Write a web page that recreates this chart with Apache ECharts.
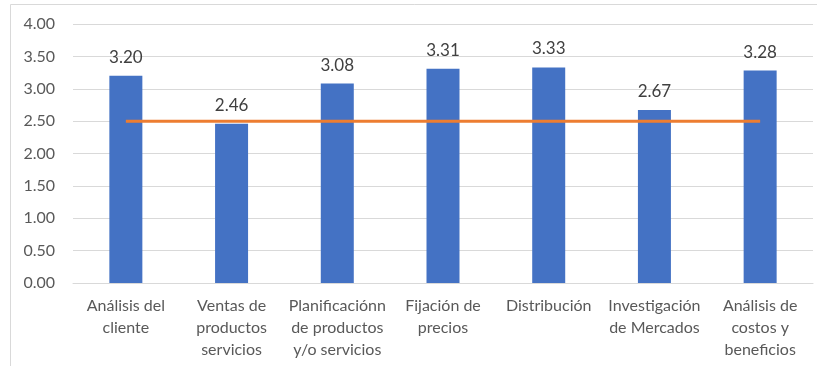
<!DOCTYPE html>
<html><head><meta charset="utf-8">
<script src="https://cdn.jsdelivr.net/npm/echarts@6/dist/echarts.min.js"></script>
<style>html,body{margin:0;padding:0;background:#fff}#c{width:817px;height:366px}</style>
</head><body><div id="c"></div>
<script>
const categories = ["Análisis del\ncliente", "Ventas de\nproductos\nservicios", "Planificaciónn\nde productos\ny/o servicios", "Fijación de\nprecios", "Distribución", "Investigación\nde Mercados", "Análisis de\ncostos y\nbeneficios"];
const barValues = [3.20, 2.46, 3.08, 3.31, 3.33, 2.67, 3.28];
const refValues = [2.5, 2.5, 2.5, 2.5, 2.5, 2.5, 2.5];
const yTicks = [0, 0.5, 1, 1.5, 2, 2.5, 3, 3.5, 4];

const font = "Lato, 'Open Sans', sans-serif";
const chart = echarts.init(document.getElementById('c'));
chart.setOption({
  animation: false,
  graphic: [{type: 'rect', shape: {x: 10.5, y: 4.5, width: 900, height: 500}, style: {fill: 'none', stroke: '#d9d9d9', lineWidth: 1}, silent: true}],
  grid: {left: 73, right: 4, top: 24, bottom: 83},
  xAxis: {
    type: 'category', data: categories,
    axisLine: {lineStyle: {color: '#d9d9d9'}}, axisTick: {show: false},
    axisLabel: {color: '#595959', fontFamily: font, fontSize: 16, lineHeight: 22, margin: 12, interval: 0}
  },
  yAxis: {
    type: 'value', min: yTicks[0], max: yTicks[yTicks.length - 1], interval: 0.5,
    axisLine: {show: false}, axisTick: {show: false},
    splitLine: {lineStyle: {color: '#d9d9d9'}},
    axisLabel: {color: '#595959', fontFamily: font, fontSize: 16, margin: 18, formatter: v => v.toFixed(2)}
  },
  series: [
    {type: 'bar', data: barValues, barWidth: 33, itemStyle: {color: '#4472C4'},
     label: {show: true, position: 'top', distance: 10, color: '#404040', fontFamily: font, fontSize: 17, formatter: p => p.value.toFixed(2)}},
    {type: 'line', data: refValues, symbol: 'none', lineStyle: {color: '#ED7D31', width: 3}, z: 3}
  ]
});
</script></body></html>
